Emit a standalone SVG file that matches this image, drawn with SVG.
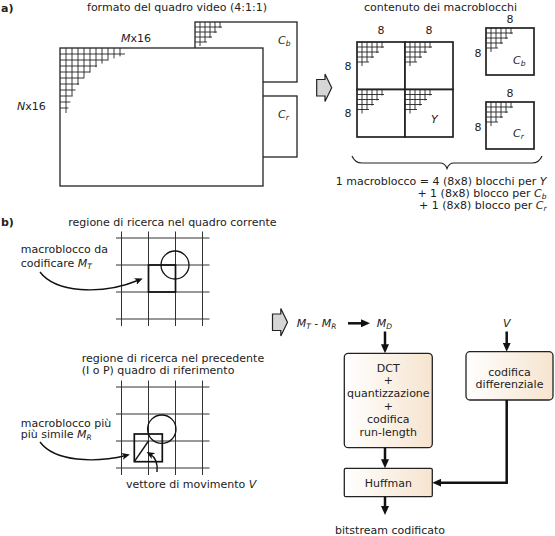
<svg xmlns="http://www.w3.org/2000/svg" width="555" height="536" viewBox="0 0 555 536">
<defs>
<style>
.t{font-family:"DejaVu Sans",sans-serif;font-size:11px;fill:#222}
.c{text-anchor:middle}
.e{text-anchor:end}
.i{font-style:italic}
.s{font-size:7.5px;font-style:italic}
.b{font-weight:bold}
.box{fill:#fff;stroke:#222;stroke-width:1.3}
.mb{fill:#fff;stroke:#222;stroke-width:1.7}
.grid{fill:none;stroke:#222;stroke-width:0.9}
.sg{fill:none;stroke:#333;stroke-width:1}
.fat{fill:none;stroke:#111;stroke-width:2.5;marker-end:url(#ah)}
.thin{fill:none;stroke:#111;stroke-width:1.4;marker-end:url(#ah2)}
.hol{fill:#d6d6d6;stroke:#222;stroke-width:1.2}
.pb{fill:url(#bg);stroke:#222;stroke-width:1.3}
</style>
<linearGradient id="bg" x1="0" y1="0" x2="1" y2="0"><stop offset="0" stop-color="#ffffff"/><stop offset="1" stop-color="#f6e4cf"/></linearGradient>
<marker id="ah" viewBox="0 0 9 8" refX="5" refY="4" markerWidth="9" markerHeight="8" markerUnits="userSpaceOnUse" orient="auto"><path d="M0,0 L9,4 L0,8 z" fill="#111"/></marker>
<marker id="ah2" viewBox="0 0 8 7" refX="4" refY="3.5" markerWidth="8" markerHeight="7" markerUnits="userSpaceOnUse" orient="auto"><path d="M0,0 L8,3.5 L0,7 L2,3.5 z" fill="#111"/></marker>
<path id="g1" d="M0,6h65M0,12h47.8M0,18h36.9M0,24h30.2M0,30h24M0,36h19.1M0,42h15.6M0,48h12.7M0,54h10.4M0,60h8.4M6,0v65M12,0v47.8M18,0v36.9M24,0v30.2M30,0v24.5M36,0v19.1M42,0v15.6M48,0v12.7M54,0v10.4M60,0v8.4"/>
<path id="g2" d="M0,5h27M0,10h22M0,15h17M0,20h12M5,0v24M10,0v20M15,0v16M20,0v11M25,0v6"/>
<path id="hollow" d="M0,5.5 H8.3 V0 L15,13.8 L8.3,27.6 V22 H0 Z"/>
<path id="srch" d="M121.5,231.5V326M148.5,231.5V326M175.5,231.5V326M202.5,231.5V326M116,238H209.5M116,265H209.5M116,292H209.5M116,319H209.5"/>
</defs>

<!-- part a -->
<text class="t b" x="1" y="11.5">a)</text>
<text class="t c" x="177" y="11">formato del quadro video (4:1:1)</text>
<text class="t c" x="440.5" y="10.5">contenuto dei macroblocchi</text>

<g id="frame-cb">
<rect class="box" x="195" y="22" width="102" height="60"/>
<use href="#g2" x="195" y="22" class="grid"/>
<text class="t" x="278" y="44"><tspan class="i">C</tspan><tspan class="s" dy="2">b</tspan></text>
</g>
<g id="frame-cr">
<rect class="box" x="240" y="96" width="57" height="61"/>
<text class="t" x="278" y="118"><tspan class="i">C</tspan><tspan class="s" dy="2">r</tspan></text>
</g>
<g id="frame-y">
<rect class="box" x="60" y="48" width="203" height="138"/>
<use href="#g1" x="60" y="48" class="grid"/>
<text class="t c" x="136" y="41.5"><tspan class="i">M</tspan>x16</text>
<text class="t" x="17" y="110"><tspan class="i">N</tspan>x16</text>
</g>

<use id="arrow-a" href="#hollow" x="316.7" y="74" class="hol"/>

<g id="mb-y">
<rect class="mb" x="357" y="42" width="48" height="47.5"/>
<rect class="mb" x="405" y="42" width="48" height="47.5"/>
<rect class="mb" x="357" y="89.5" width="48" height="47.5"/>
<rect class="mb" x="405" y="89.5" width="48" height="47.5"/>
<use href="#g2" x="357" y="42" class="grid"/>
<use href="#g2" x="405" y="42" class="grid"/>
<use href="#g2" x="357" y="89.5" class="grid"/>
<use href="#g2" x="405" y="89.5" class="grid"/>
<text class="t c" x="381" y="34">8</text>
<text class="t c" x="429" y="34">8</text>
<text class="t c" x="348" y="69.5">8</text>
<text class="t c" x="348" y="117">8</text>
<text class="t i" x="431" y="123">Y</text>
</g>
<g id="mb-cb">
<rect class="mb" x="486" y="28" width="48" height="47"/>
<use href="#g2" x="486" y="28" class="grid"/>
<text class="t c" x="510" y="22.5">8</text>
<text class="t c" x="478" y="56.5">8</text>
<text class="t" x="513" y="64"><tspan class="i">C</tspan><tspan class="s" dy="2">b</tspan></text>
</g>
<g id="mb-cr">
<rect class="mb" x="486" y="102" width="48" height="47"/>
<use href="#g2" x="486" y="102" class="grid"/>
<text class="t c" x="510" y="96.5">8</text>
<text class="t c" x="478" y="130.5">8</text>
<text class="t" x="513" y="137"><tspan class="i">C</tspan><tspan class="s" dy="2">r</tspan></text>
</g>

<path id="brace" d="M352,156 Q355,163 362,163 H440 Q445,163 447,168.5 Q449,163 454,163 H532 Q539,163 542,156" fill="none" stroke="#222" stroke-width="1.2"/>
<text class="t e" x="546.5" y="184.8">1 macroblocco = 4 (8x8) blocchi per <tspan class="i">Y</tspan></text>
<text class="t e" x="546.5" y="196.5">+ 1 (8x8) blocco per <tspan class="i">C</tspan><tspan class="s" dy="2">b</tspan></text>
<text class="t e" x="546.5" y="208.5">+ 1 (8x8) blocco per <tspan class="i">C</tspan><tspan class="s" dy="2">r</tspan></text>

<!-- part b -->
<text class="t b" x="1" y="226">b)</text>
<text class="t" x="68.3" y="226">regione di ricerca nel quadro corrente</text>

<g id="search-current">
<use href="#srch" class="sg"/>
<rect x="148.5" y="265" width="27" height="27" fill="none" stroke="#111" stroke-width="1.7"/>
<circle cx="175" cy="265" r="14" fill="none" stroke="#111" stroke-width="1.3"/>
</g>
<text class="t" x="20.7" y="253">macroblocco da</text>
<text class="t" x="20.7" y="266.5">codificare <tspan class="i">M</tspan><tspan class="s" dy="2">T</tspan></text>

<text class="t" x="81.7" y="361.5">regione di ricerca nel precedente</text>
<text class="t" x="81.7" y="373.5">(I o P) quadro di riferimento</text>

<g id="search-ref">
<use href="#srch" y="149" class="sg"/>
<rect x="134.3" y="434" width="28" height="27.7" fill="none" stroke="#111" stroke-width="1.7"/>
<circle cx="161.8" cy="429.2" r="14.2" fill="none" stroke="#111" stroke-width="1.3"/>
<path d="M134.3,461.7 L148.5,441" fill="none" stroke="#111" stroke-width="1.4"/>
</g>
<text class="t" x="20.7" y="426.5">macroblocco più</text>
<text class="t" x="20.7" y="438.3">più simile <tspan class="i">M</tspan><tspan class="s" dy="2">R</tspan></text>
<text class="t" x="126" y="488">vettore di movimento <tspan class="i">V</tspan></text>

<use id="arrow-b" href="#hollow" x="272.5" y="308.5" class="hol"/>

<text class="t" x="296.7" y="326.7"><tspan class="i">M</tspan><tspan class="s" dy="2">T</tspan><tspan dy="-2"> - </tspan><tspan class="i">M</tspan><tspan class="s" dy="2">R</tspan></text>
<text class="t" x="376.7" y="326.7"><tspan class="i">M</tspan><tspan class="s" dy="2">D</tspan></text>
<text class="t i" x="503" y="326.7">V</text>

<g id="dct">
<rect class="pb" x="344.3" y="353.3" width="88" height="94.4" rx="4"/>
<text class="t c" x="388.3" y="371.5">DCT</text>
<text class="t c" x="388.3" y="384.4">+</text>
<text class="t c" x="388.3" y="397.3">quantizzazione</text>
<text class="t c" x="388.3" y="410.2">+</text>
<text class="t c" x="388.3" y="423.1">codifica</text>
<text class="t c" x="388.3" y="436">run-length</text>
</g>
<g id="diff">
<rect class="pb" x="466" y="351.7" width="87" height="48.3" rx="4"/>
<text class="t c" x="509.5" y="376">codifica</text>
<text class="t c" x="509.5" y="387.5">differenziale</text>
</g>
<g id="huffman">
<rect class="pb" x="344.3" y="468.3" width="88" height="28.4" rx="1.5"/>
<text class="t c" x="388.3" y="487">Huffman</text>
</g>
<text class="t c" x="390" y="534">bitstream codificato</text>

<g id="connectors">
<path class="thin" d="M40,272 C55,292 100,296 139,280"/>
<path class="thin" d="M40,442 C55,462 95,463 126,455.5"/>
<path class="thin" d="M157,472 C158,463 155,457 150,454"/>
<path class="fat" d="M348,323.3 H366"/>
<path class="fat" d="M385,331.5 V349.3"/>
<path class="fat" d="M506.7,331.5 V347.7"/>
<path class="fat" d="M385,447.7 V464.3"/>
<path class="fat" d="M385,496.7 V511"/>
<path class="fat" d="M506.7,400 V482.7 H436.3"/>
</g>
</svg>
